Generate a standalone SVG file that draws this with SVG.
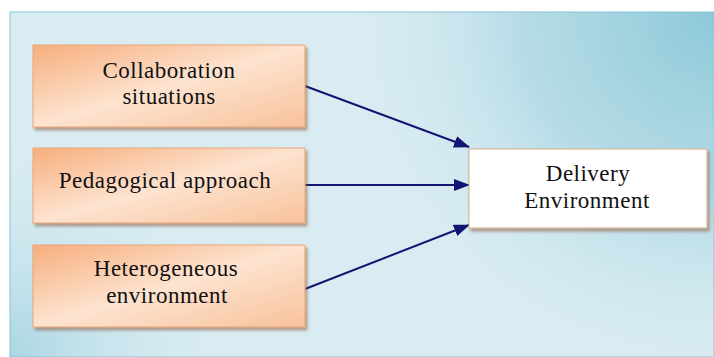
<svg xmlns="http://www.w3.org/2000/svg" width="714" height="357" viewBox="0 0 714 357">
  <defs>
    <radialGradient id="tr" cx="714" cy="12" r="380" gradientUnits="userSpaceOnUse">
      <stop offset="0" stop-color="#8cc9d8" stop-opacity="1"/>
      <stop offset="0.5" stop-color="#a6d4e1" stop-opacity="0.7"/>
      <stop offset="1" stop-color="#d8ebf2" stop-opacity="0"/>
    </radialGradient>
    <radialGradient id="bl" cx="10" cy="357" r="230" gradientUnits="userSpaceOnUse">
      <stop offset="0" stop-color="#a9d6e3" stop-opacity="1"/>
      <stop offset="1" stop-color="#d8ebf2" stop-opacity="0"/>
    </radialGradient>
    <linearGradient id="orange" x1="0" y1="0" x2="1" y2="1">
      <stop offset="0" stop-color="#f7ae7c"/>
      <stop offset="0.5" stop-color="#fde3d0"/>
      <stop offset="1" stop-color="#f8c29b"/>
    </linearGradient>
    <filter id="sh" x="-10%" y="-10%" width="125%" height="130%">
      <feDropShadow dx="2" dy="3" stdDeviation="1.5" flood-color="#8a5a3a" flood-opacity="0.55"/>
    </filter>
    <marker id="ah" markerWidth="16" markerHeight="12" refX="15" refY="6" orient="auto" markerUnits="userSpaceOnUse">
      <path d="M0,0 L16,6 L0,12 Z" fill="#141472"/>
    </marker>
  </defs>
  <style>
    .src { fill: url(#orange); stroke: #e9a678; stroke-width: 1; filter: url(#sh); }
    .dst { fill: #ffffff; stroke: #d8b89a; stroke-width: 1.2; filter: url(#sh); }
    .t { font-family: "Liberation Serif", "Times New Roman", serif; font-size: 23px; fill: #111; text-anchor: middle; letter-spacing: 0.5px; }
    .c { stroke: #141472; stroke-width: 2; fill: none; marker-end: url(#ah); }
  </style>
  <rect x="0" y="0" width="714" height="357" fill="#ffffff"/>
  <rect x="10" y="12" width="704" height="345" fill="#d9ecf2"/>
  <rect x="10" y="12" width="704" height="345" fill="url(#tr)"/>
  <rect x="10" y="12" width="704" height="345" fill="url(#bl)"/>
  <rect x="10" y="12" width="704" height="345" fill="none" stroke="#86c4d3" stroke-width="1"/>

  <g id="connectors">
    <line class="c" x1="305" y1="86" x2="469" y2="147"/>
    <line class="c" x1="305" y1="185" x2="469" y2="185"/>
    <line class="c" x1="305" y1="289" x2="469" y2="225"/>
  </g>

  <g id="collaboration">
    <rect class="src" x="33" y="45" width="272" height="82"/>
    <text class="t" x="169" y="78">Collaboration</text>
    <text class="t" x="169" y="104">situations</text>
  </g>
  <g id="pedagogical">
    <rect class="src" x="33" y="148" width="272" height="75"/>
    <text class="t" x="165" y="188">Pedagogical approach</text>
  </g>
  <g id="heterogeneous">
    <rect class="src" x="33" y="245" width="272" height="82"/>
    <text class="t" x="166" y="276">Heterogeneous</text>
    <text class="t" x="167" y="303">environment</text>
  </g>
  <g id="delivery">
    <rect class="dst" x="469" y="149" width="238" height="79"/>
    <text class="t" x="588" y="181">Delivery</text>
    <text class="t" x="587" y="208">Environment</text>
  </g>
</svg>
